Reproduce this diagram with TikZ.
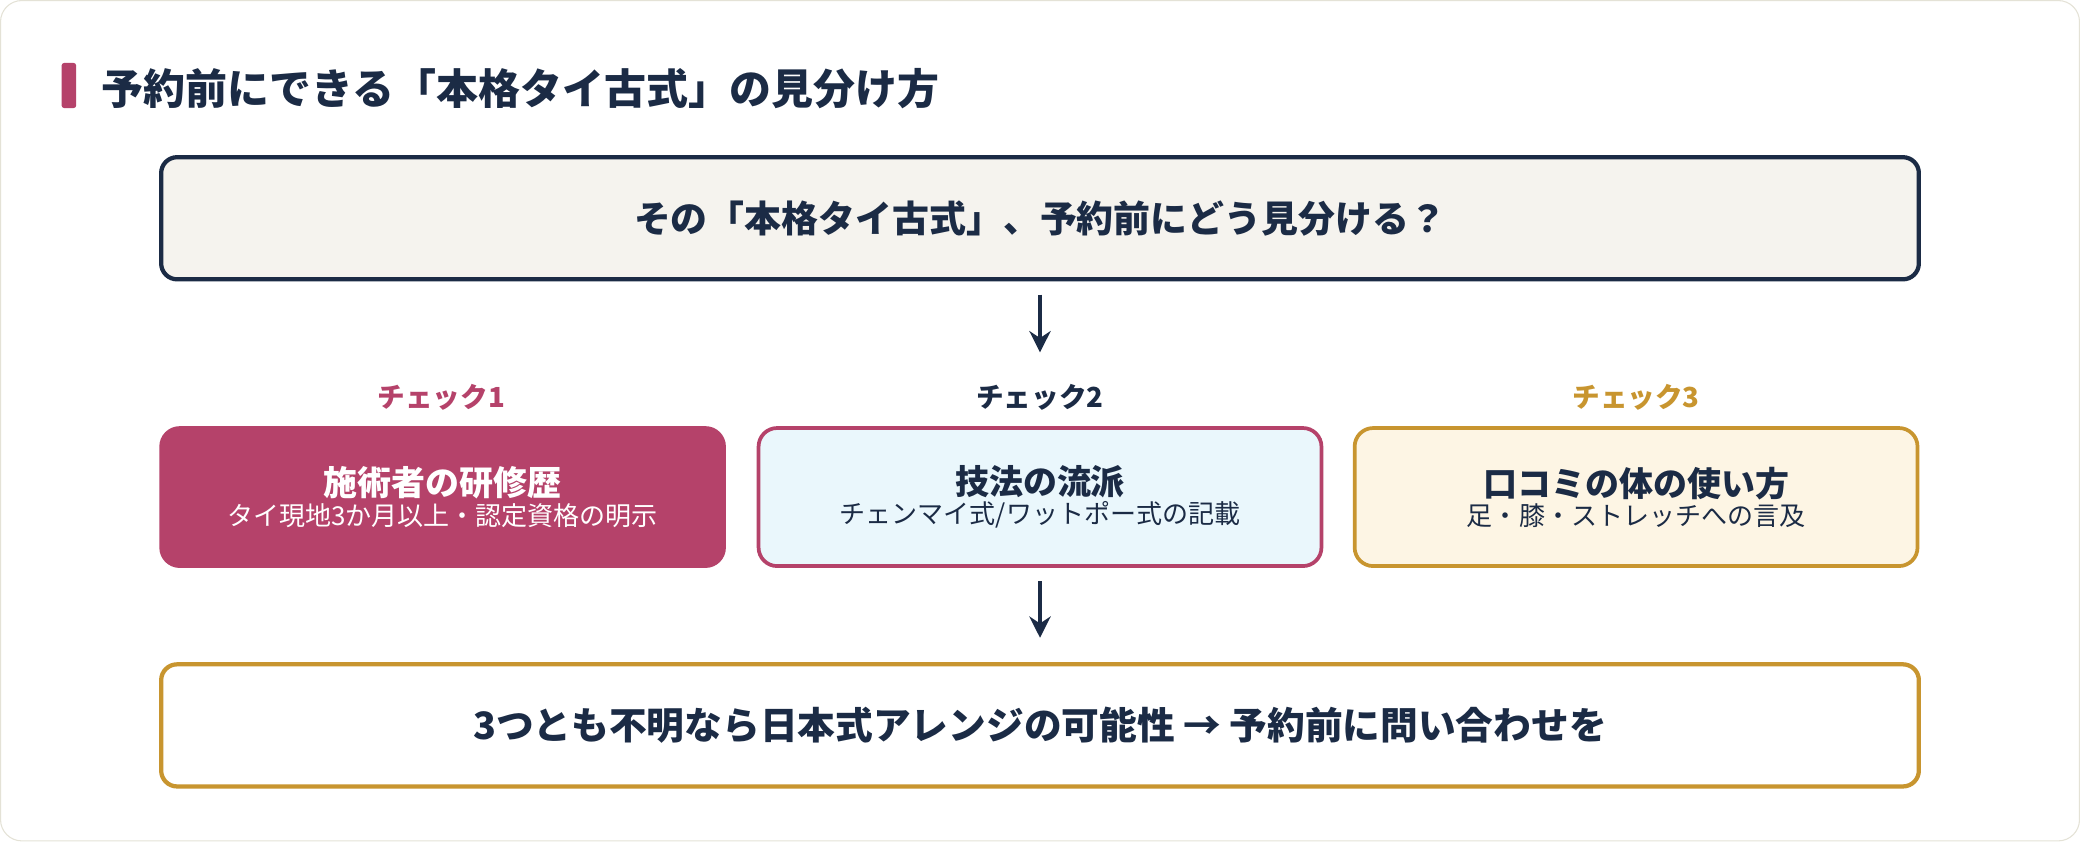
\documentclass[tikz,border=0pt]{standalone}
\usepackage{fontspec}
\setmainfont{Noto Sans CJK JP}
\usetikzlibrary{arrows.meta}
\definecolor{navy}{HTML}{1B2B45}
\definecolor{rose}{HTML}{B5426A}
\definecolor{gold}{HTML}{C8952F}
\definecolor{paper}{HTML}{F5F3EE}
\definecolor{sky}{HTML}{EAF7FC}
\definecolor{cream}{HTML}{FDF5E4}
\definecolor{frame}{HTML}{E4E2D6}
\tikzset{
  wide/.style={draw=navy, line width=1.6pt, rounded corners=6pt, minimum width=662pt, minimum height=46pt, text=navy},
  check/.style={line width=1.4pt, rounded corners=7pt, minimum width=212pt, minimum height=52pt, align=center},
  tag/.style={font=\bfseries\fontsize{10.4}{12}\selectfont},
  flow/.style={draw=navy, line width=1.4pt, -{Stealth[length=8pt,width=8pt]}}
}
\newcommand{\chk}[2]{{\bfseries\fontsize{12.8}{15}\selectfont #1}\\[-1pt]{\fontsize{9.8}{12}\selectfont #2}}
\begin{document}
\begin{tikzpicture}[x=0.5pt, y=-0.5pt]
            % Frame
            \draw[frame, fill=white, rounded corners=8pt] (1,1) rectangle (1567,634);
            \fill[rose, rounded corners=1pt] (47,48) rectangle (58,82);
            \node[anchor=west, text=navy, font=\bfseries\fontsize{15.8}{18}\selectfont] (title) at (70,67) {予約前にできる「本格タイ古式」の見分け方};

            % Nodes
            \node[wide, fill=paper, font=\bfseries\fontsize{13.9}{16}\selectfont] (q) at (784,165) {その「本格タイ古式」、予約前にどう見分ける？};
            \node[tag, text=rose] (t1) at (333,300) {チェック1};
            \node[tag, text=navy] (t2) at (784,300) {チェック2};
            \node[tag, text=gold] (t3) at (1233,300) {チェック3};
            \node[check, fill=rose, draw=rose, text=white] (c1) at (334,375) {\chk{施術者の研修歴}{タイ現地3か月以上・認定資格の明示}};
            \node[check, fill=sky, draw=rose, text=navy] (c2) at (784,375) {\chk{技法の流派}{チェンマイ式/ワットポー式の記載}};
            \node[check, fill=cream, draw=gold, text=navy] (c3) at (1233,375) {\chk{口コミの体の使い方}{足・膝・ストレッチへの言及}};
            \node[wide, fill=white, draw=gold, font=\bfseries\fontsize{14.2}{16}\selectfont] (r) at (784,547) {3つとも不明なら日本式アレンジの可能性 → 予約前に問い合わせを};
            \coordinate (a1) at (784,266);
            \coordinate (a2) at (784,481);

            % Lines
            \draw[flow] ([yshift=-5pt]q.south) -- (a1);
            \draw[flow] ([yshift=-5pt]c2.south) -- (a2);
\end{tikzpicture}
\end{document}
